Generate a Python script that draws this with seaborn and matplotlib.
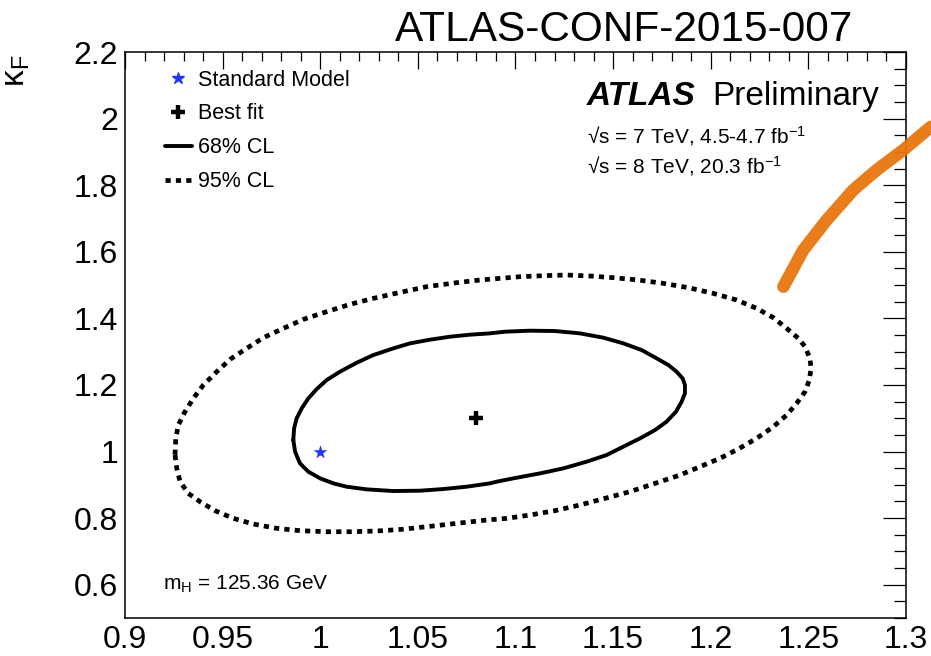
import numpy as np
import pandas as pd
import matplotlib
matplotlib.use("Agg")
import matplotlib.pyplot as plt
import seaborn as sns
from matplotlib.lines import Line2D
from matplotlib.ticker import FixedLocator, MultipleLocator

# --- data -------------------------------------------------------------
# 68% CL likelihood contour in the (kappa_V, kappa_F) plane
cl68_kv = [0.9862, 0.9871, 0.9896, 0.9939, 0.9999, 1.0067, 1.0135, 1.0238,
           1.0374, 1.0511, 1.0630, 1.0750, 1.0869, 1.0904, 1.0989, 1.1126,
           1.1245, 1.1364, 1.1467, 1.1552, 1.1638, 1.1715, 1.1774, 1.1822,
           1.1851, 1.1868, 1.1868, 1.1856, 1.1825, 1.1783, 1.1723, 1.1646,
           1.1552, 1.1450, 1.1330, 1.1202, 1.1074, 1.0946, 1.0869, 1.0767,
           1.0665, 1.0562, 1.0460, 1.0374, 1.0272, 1.0187, 1.0101, 1.0033,
           0.9982, 0.9939, 0.9905, 0.9879, 0.9866]
cl68_kf = [1.0346, 0.9996, 0.9645, 0.9395, 0.9195, 0.9045, 0.8944, 0.8864,
           0.8814, 0.8824, 0.8874, 0.8944, 0.9045, 0.9095, 0.9195, 0.9345,
           0.9495, 0.9695, 0.9896, 1.0146, 1.0396, 1.0647, 1.0897, 1.1197,
           1.1498, 1.1748, 1.1998, 1.2198, 1.2399, 1.2599, 1.2799, 1.3049,
           1.3250, 1.3420, 1.3550, 1.3620, 1.3630, 1.3600, 1.3550, 1.3510,
           1.3450, 1.3360, 1.3250, 1.3099, 1.2899, 1.2669, 1.2399, 1.2148,
           1.1878, 1.1598, 1.1297, 1.0997, 1.0697]

# 95% CL likelihood contour
cl95_kv = [0.9256, 0.9265, 0.9282, 0.9324, 0.9384, 0.9461, 0.9555, 0.9657,
           0.9777, 0.9896, 1.0033, 1.0161, 1.0289, 1.0417, 1.0545, 1.0699,
           1.0852, 1.0955, 1.1074, 1.1202, 1.1330, 1.1458, 1.1586, 1.1715,
           1.1843, 1.1945, 1.2047, 1.2141, 1.2235, 1.2321, 1.2389, 1.2440,
           1.2483, 1.2505, 1.2514, 1.2508, 1.2483, 1.2449, 1.2389, 1.2321,
           1.2235, 1.2133, 1.2013, 1.1885, 1.1757, 1.1629, 1.1501, 1.1382,
           1.1262, 1.1143, 1.1023, 1.0921, 1.0818, 1.0699, 1.0545, 1.0409,
           1.0272, 1.0152, 1.0033, 0.9913, 0.9811, 0.9709, 0.9623, 0.9538,
           0.9470, 0.9401, 0.9350, 0.9307, 0.9273, 0.9260]
cl95_kf = [0.9896, 0.9495, 0.9095, 0.8744, 0.8494, 0.8224, 0.7993, 0.7823,
           0.7693, 0.7623, 0.7592, 0.7592, 0.7613, 0.7663, 0.7743, 0.7843,
           0.7943, 0.7993, 0.8093, 0.8224, 0.8394, 0.8594, 0.8794, 0.9045,
           0.9295, 0.9545, 0.9795, 1.0076, 1.0396, 1.0747, 1.1097, 1.1447,
           1.1798, 1.2148, 1.2499, 1.2799, 1.3150, 1.3400, 1.3700, 1.4021,
           1.4301, 1.4551, 1.4751, 1.4922, 1.5052, 1.5152, 1.5222, 1.5272,
           1.5302, 1.5282, 1.5252, 1.5202, 1.5152, 1.5072, 1.4952, 1.4781,
           1.4601, 1.4421, 1.4201, 1.3970, 1.3700, 1.3420, 1.3099, 1.2769,
           1.2399, 1.1998, 1.1598, 1.1197, 1.0797, 1.0396]

best_fit_kv = [1.08]
best_fit_kf = [1.10]
sm_kv = [1.0]
sm_kf = [1.0]

# hand-drawn highlighter stroke at the upper right
stroke_kv = [1.2372, 1.2474, 1.2594, 1.2730, 1.2850, 1.2986, 1.3128]
stroke_kf = [1.4951, 1.6053, 1.6954, 1.7855, 1.8456, 1.9056, 1.9756]

x_ticks = [0.9, 0.95, 1.0, 1.05, 1.1, 1.15, 1.2, 1.25, 1.3]
x_tick_labels = ["0.9", "0.95", "1", "1.05", "1.1", "1.15", "1.2", "1.25", "1.3"]
y_ticks = [0.6, 0.8, 1.0, 1.2, 1.4, 1.6, 1.8, 2.0, 2.2]
y_tick_labels = ["0.6", "0.8", "1", "1.2", "1.4", "1.6", "1.8", "2", "2.2"]

# --- style ------------------------------------------------------------
sns.set_theme(style="white")
plt.rcParams["font.family"] = ["Liberation Sans", "DejaVu Sans"]
plt.rcParams["text.color"] = "black"
plt.rcParams["mathtext.fontset"] = "custom"
plt.rcParams["mathtext.rm"] = "Liberation Sans"
plt.rcParams["mathtext.it"] = "Liberation Sans:italic"
plt.rcParams["mathtext.bf"] = "Liberation Sans:bold"

fig = plt.figure(figsize=(9.31, 6.56), dpi=100)
ax = fig.add_axes([0.1343, 0.0579, 0.9731 - 0.1343, 0.9207 - 0.0579])

DOTTED = (0, (1.1, 1.1))


def closed(xs, ys):
    return pd.DataFrame({"kv": list(xs) + [xs[0]], "kf": list(ys) + [ys[0]]})


sns.lineplot(data=closed(cl95_kv, cl95_kf), x="kv", y="kf", sort=False,
             estimator=None, ax=ax, color="black", lw=3.4,
             linestyle=DOTTED, dash_capstyle="butt")
sns.lineplot(data=closed(cl68_kv, cl68_kf), x="kv", y="kf", sort=False,
             estimator=None, ax=ax, color="black", lw=2.8,
             solid_joinstyle="round", solid_capstyle="round")

sns.scatterplot(x=best_fit_kv, y=best_fit_kf, ax=ax, marker="+", s=110,
                color="black", linewidth=3.2, zorder=5)
sns.scatterplot(x=sm_kv, y=sm_kf, ax=ax, marker="*", s=90,
                color="#1f35ff", edgecolor="#1f35ff", linewidth=0.3, zorder=5)

# highlighter stroke, drawn above everything and outside the frame
ax.plot(stroke_kv, stroke_kf, color="#e8760c", lw=9.0, alpha=0.95,
        solid_capstyle="round", solid_joinstyle="round", clip_on=False,
        zorder=10)

ax.set_xlim(0.9, 1.3)
ax.set_ylim(0.5, 2.2)
ax.set_xlabel("")
ax.set_ylabel("")

ax.xaxis.set_major_locator(FixedLocator(x_ticks))
ax.set_xticklabels(x_tick_labels)
ax.yaxis.set_major_locator(FixedLocator(y_ticks))
ax.set_yticklabels(y_tick_labels)
ax.xaxis.set_minor_locator(MultipleLocator(0.01))
ax.yaxis.set_minor_locator(MultipleLocator(0.05))

ax.tick_params(which="both", direction="in", top=True, right=True,
               width=0.9, color="black", labelsize=23, labelcolor="black")
ax.tick_params(axis="x", which="major", length=12.5, pad=5)
ax.tick_params(axis="x", which="minor", length=6.5)
ax.tick_params(axis="y", which="major", length=16.5, pad=5)
ax.tick_params(axis="y", which="minor", length=8.3)
for sp in ax.spines.values():
    sp.set_visible(True)
    sp.set_color("black")
    sp.set_linewidth(1.1)

# legend
handles = [
    Line2D([], [], marker="*", color="#1f35ff", linestyle="none", markersize=9),
    Line2D([], [], marker="+", color="black", linestyle="none", markersize=10,
           markeredgewidth=3.2),
    Line2D([], [], color="black", lw=2.8),
    Line2D([], [], color="black", lw=3.4, linestyle=DOTTED),
]
labels = ["Standard Model", "Best fit", "68% CL", "95% CL"]
leg = ax.legend(handles, labels, loc="upper left",
                bbox_to_anchor=(0.051, 0.969), frameon=False, fontsize=15.5,
                handlelength=1.25, handletextpad=0.3, labelspacing=0.6,
                borderpad=0, borderaxespad=0)
for t in leg.get_texts():
    t.set_color("black")

# annotations
ax.text(0.5915, 0.906, "ATLAS", transform=ax.transAxes, fontsize=24,
        fontweight="bold", fontstyle="italic", va="baseline", ha="left",
        color="black")
ax.text(0.7516, 0.906, "Preliminary", transform=ax.transAxes, fontsize=24,
        va="baseline", ha="left", color="black")
ax.text(0.5915, 0.839, r"√s = 7 TeV, 4.5-4.7 fb$^{\mathrm{-1}}$",
        transform=ax.transAxes, fontsize=15, va="baseline", ha="left",
        color="black")
ax.text(0.5915, 0.786, r"√s = 8 TeV, 20.3 fb$^{\mathrm{-1}}$",
        transform=ax.transAxes, fontsize=15, va="baseline", ha="left",
        color="black")
ax.text(0.0487, 0.0495, r"m$_{\mathrm{H}}$ = 125.36 GeV",
        transform=ax.transAxes, fontsize=15, va="baseline", ha="left",
        color="black")

fig.text(624 / 931, 1 - 41 / 656, "ATLAS-CONF-2015-007", fontsize=30.5,
         ha="center", va="baseline", color="black")
fig.text(17 / 931, 1 - 55 / 656, r"$\mathrm{κ}_{\mathrm{F}}$", fontsize=24,
         rotation=90, ha="center", va="top", color="black")

fig.savefig("out.png", dpi=100)
